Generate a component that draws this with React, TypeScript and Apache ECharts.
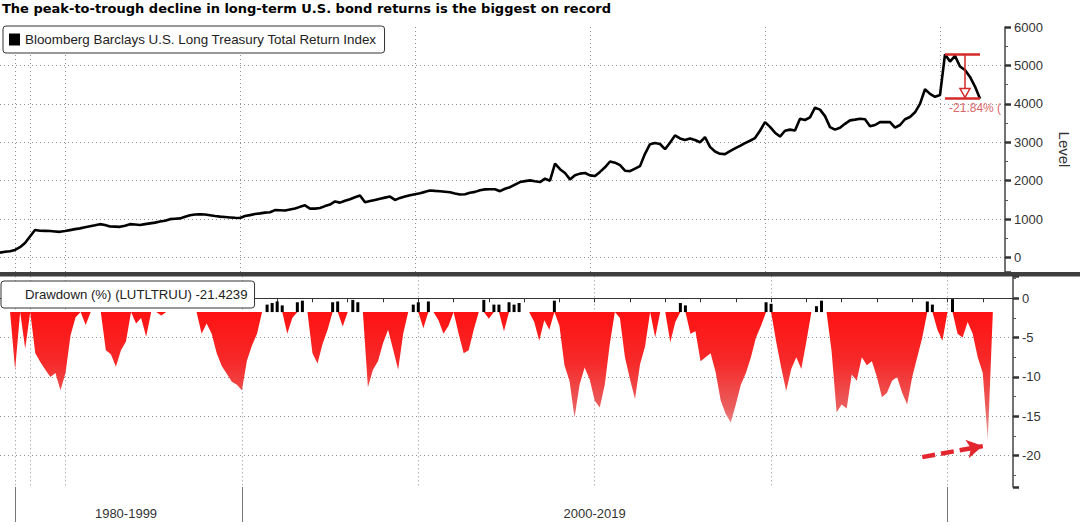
import React, { useEffect, useRef } from 'react';
import * as echarts from 'echarts';

const TITLE = 'The peak-to-trough decline in long-term U.S. bond returns is the biggest on record';
const LEVEL_NAME = 'Bloomberg Barclays U.S. Long Treasury Total Return Index';
const DD_NAME = 'Drawdown (%) (LUTLTRUU) -21.4239';
const DD_UP_NAME = 'Drawdown near high';
const LEVEL_AXIS_NAME = 'Level';
const PERIOD_LABELS = ['1980-1999', '2000-2019'];
const ANNOT_LABEL = '-21.84% (';

// Sample dates (decimal years). Bloomberg plots by observation, so the early
// (sparser) history is compressed: 1.5-year steps before 1995, 1/7-year after.
const EARLY_YEARS = [1975.5, 1977, 1978.5, 1980, 1981.5, 1983, 1984.5, 1986, 1987.5, 1989, 1990.5, 1992, 1993.5];
const LATE_START = 1995;
const LATE_STEPS_PER_YEAR = 7;
const LATE_COUNT = 189;
const EARLY_TICK_YEARS = [1977, 1980, 1984.5];
const EARLY_GRID_YEARS = [1980, 1984.5];
const ERA_YEARS = [1980, 2000, 2020];

const LEVEL = [
  130, 150, 165, 200, 270, 380, 550, 720, 700, 695,
  690, 680, 670, 690, 715, 740, 760, 790, 815, 840,
  870, 850, 810, 805, 800, 830, 870, 860, 850, 870,
  890, 910, 940, 960, 1000, 1010, 1020, 1060, 1100, 1120,
  1125, 1120, 1100, 1080, 1065, 1055, 1045, 1035, 1030, 1080,
  1105, 1135, 1150, 1170, 1180, 1235, 1230, 1225, 1250, 1275,
  1320, 1360, 1275, 1275, 1290, 1340, 1380, 1460, 1430, 1480,
  1520, 1570, 1614, 1439, 1470, 1500, 1530, 1560, 1588, 1500,
  1553, 1590, 1623, 1650, 1675, 1710, 1746, 1735, 1728, 1715,
  1702, 1670, 1640, 1650, 1685, 1710, 1750, 1775, 1778, 1780,
  1728, 1790, 1833, 1900, 1965, 1990, 2009, 1985, 1965, 2053,
  2000, 2447, 2300, 2200, 2035, 2140, 2185, 2200, 2140, 2123,
  2230, 2350, 2500, 2470, 2404, 2260, 2250, 2316, 2380, 2700,
  2950, 2980, 2956, 2820, 2990, 3180, 3100, 3061, 3100, 3060,
  3000, 3132, 2880, 2760, 2700, 2693, 2770, 2840, 2905, 2980,
  3040, 3110, 3300, 3526, 3400, 3250, 3149, 3300, 3330, 3307,
  3614, 3580, 3650, 3900, 3850, 3680, 3395, 3330, 3377, 3480,
  3570, 3590, 3614, 3600, 3420, 3450, 3526, 3530, 3526, 3380,
  3450, 3600, 3658, 3780, 4000, 4380, 4260, 4184, 4230, 5290,
  5100, 5250, 4974, 4880, 4700, 4450, 4134, null, null, null,
  null, null,
];

// Drawdown (%) as drawn on the axis; null = nothing drawn at that sample
const DRAWDOWN = [
  null, null, null, -9.1, null, -6.4, null, -7.0, -8.1, -9.1,
  -10.0, -9.5, -11.7, -9.5, -4.7, -2.4, null, -3.4, null, null,
  null, -6.6, -7.1, -8.7, -6.6, -5.5, null, -3.2, -2.5, -4.9,
  null, null, -2.2, null, null, null, null, null, null, null,
  -4.5, -3.2, -4.5, -7.0, -8.6, -9.6, -10.6, -11.0, -11.7, -7.9,
  -6.0, -4.5, null, -0.8, -0.6, -0.4, -0.9, -4.5, -2.5, -0.5,
  -0.3, null, -7.0, -8.3, -5.8, -4.0, -0.5, -0.4, -3.6, null,
  -0.2, -0.5, null, -11.3, -9.1, -8.0, -5.7, -4.0, -6.5, -9.1,
  -4.5, null, -0.8, -0.5, -3.8, -0.4, null, -2.8, -4.5, -3.5,
  null, -4.5, -7.0, -6.6, -4.0, null, -0.2, -2.6, -0.8, -0.8,
  -4.2, -0.5, -0.8, -0.6, null, null, -3.0, -5.4, -2.8, -4.0,
  -0.3, -3.5, -8.5, -10.5, -15.2, -11.0, -8.8, -10.3, -13.0, -13.9,
  -11.0, -5.8, null, -2.5, -7.5, -10.3, -12.8, -8.4, -6.1, null,
  -5.0, null, null, -5.6, -3.0, -0.6, -0.9, -4.5, -4.2, -8.0,
  -7.5, -7.0, -9.4, -13.0, -14.7, -15.8, -13.5, -11.0, -9.5, -7.5,
  -5.0, -3.5, -0.5, -0.7, -5.5, -8.8, -11.8, -9.0, -7.5, -9.0,
  -5.5, null, -1.0, -0.3, null, -6.7, -14.5, -13.5, -14.0, -9.7,
  -10.5, -7.5, -8.5, -8.0, -10.0, -12.6, -12.0, -10.5, -10.0, -12.0,
  -13.5, -10.0, -7.5, -5.0, -0.4, -0.8, -4.0, -5.4, null, -0.1,
  -4.5, -5.0, -3.0, -4.5, -7.5, -9.5, -18.1, null, null, null,
  null, null,
];

const DD_BASE = -1.75; // Bloomberg's fill baseline in the lower panel

// Hand-drawn arrow in the lower panel (date, drawdown value)
const ARROW_FROM: [string, number] = ['2019-04', -20.2];
const ARROW_TO: [string, number] = ['2021-01', -18.8];

const X_YEARS: number[] = [
  ...EARLY_YEARS,
  ...Array.from({ length: LATE_COUNT }, (_, k) => LATE_START + k / LATE_STEPS_PER_YEAR),
];
const fmt = (y: number) => {
  const yr = Math.floor(y + 1e-9);
  const m = Math.floor((y - yr) * 12 + 1e-6) + 1;
  return `${yr}-${String(m).padStart(2, '0')}`;
};
const CATS = X_YEARS.map(fmt);
const idxOfYear = (y: number) => {
  let best = 0;
  X_YEARS.forEach((v, i) => { if (Math.abs(v - y) < Math.abs(X_YEARS[best] - y)) best = i; });
  return best;
};
const isInt = (y: number) => Math.abs(y - Math.round(y)) < 1e-9;
const TICK_SET = new Set<number>();
const GRID_SET = new Set<number>();
X_YEARS.forEach((y, i) => {
  if ((y >= LATE_START && isInt(y)) || EARLY_TICK_YEARS.includes(y)) TICK_SET.add(i);
  if ((y >= LATE_START && isInt(y) && Math.round(y) % 5 === 0) || EARLY_GRID_YEARS.includes(y)) GRID_SET.add(i);
});
const ERA_IDX = ERA_YEARS.map(idxOfYear);
const ERA_SET = new Set(ERA_IDX);
const LABEL_IDX = [Math.floor((ERA_IDX[0] + ERA_IDX[1]) / 2), Math.floor((ERA_IDX[1] + ERA_IDX[2]) / 2)];

let PEAK_IDX = 0;
LEVEL.forEach((v, i) => { if (v != null && v > (LEVEL[PEAK_IDX] as number)) PEAK_IDX = i; });
let END_IDX = 0;
LEVEL.forEach((v, i) => { if (v != null) END_IDX = i; });
const PEAK = LEVEL[PEAK_IDX] as number;
const TROUGH = LEVEL[END_IDX] as number;
const ARROW_IDX = Math.round((PEAK_IDX + END_IDX) / 2);

const DD_RED = DRAWDOWN.map((v) => (v != null && v < DD_BASE ? v : DD_BASE));
const isSpike = (v: number | null) => v != null && v > DD_BASE;
const DD_SPIKE_BASE = DRAWDOWN.map((v) => (isSpike(v) ? DD_BASE : '-'));
const DD_SPIKE = DRAWDOWN.map((v) => (isSpike(v) ? (v as number) - DD_BASE : '-'));

const FONT = 'Liberation Sans';
const GRID_LINE = { color: '#8f8f8f', width: 1, type: [1, 3] as number[] };
const RED = '#d42a2a';

export default function App() {
  const ref = useRef<HTMLDivElement>(null);
  useEffect(() => {
    const chart = echarts.init(ref.current!, null, { renderer: 'svg' });
    const catX = (common: any) => ({
      type: 'category',
      data: CATS,
      boundaryGap: false,
      ...common,
    });
    const legendBox = {
      icon: 'rect',
      itemWidth: 11,
      itemHeight: 12,
      selectedMode: false,
      backgroundColor: '#fff',
      borderColor: '#333',
      borderWidth: 1,
      borderRadius: 3,
    };
    const option: any = {
      animation: false,
      backgroundColor: '#fff',
      textStyle: { fontFamily: FONT },
      title: {
        text: TITLE,
        left: 2,
        top: 2,
        padding: 0,
        textStyle: { fontFamily: 'DejaVu Sans', fontWeight: 'bold', fontSize: 13, color: '#000' },
      },
      legend: [
        {
          ...legendBox,
          data: [LEVEL_NAME],
          left: 3,
          top: 26,
          padding: [7, 8, 7, 6],
          textStyle: { fontSize: 13.4, color: '#222', fontFamily: FONT },
        },
        {
          ...legendBox,
          data: [{ name: DD_NAME, itemStyle: { opacity: 0 } }],
          left: 1,
          top: 281,
          padding: [7, 7, 7, 8],
          textStyle: { fontSize: 13.2, color: '#222', fontFamily: FONT },
        },
      ],
      grid: [
        { left: 0, right: 67, top: 27, height: 245 },
        { left: 0, right: 67, top: 276.3, height: 210.7 },
      ],
      xAxis: [
        catX({
          gridIndex: 0,
          axisLine: { show: false },
          axisTick: { show: false },
          axisLabel: { show: false },
          splitLine: { show: true, interval: (i: number) => GRID_SET.has(i), lineStyle: GRID_LINE },
        }),
        catX({
          gridIndex: 1,
          position: 'bottom',
          axisLine: { show: true, lineStyle: { color: '#333', width: 1 } },
          axisTick: { show: true, interval: (i: number) => TICK_SET.has(i), length: 4, lineStyle: { color: '#333' } },
          axisLabel: {
            show: true,
            interval: (i: number) => LABEL_IDX.includes(i),
            formatter: (_v: string, i: number) => PERIOD_LABELS[LABEL_IDX.indexOf(i)] ?? '',
            margin: 20,
            fontSize: 13,
            color: '#333',
            fontFamily: FONT,
          },
          splitLine: { show: true, interval: (i: number) => GRID_SET.has(i), lineStyle: GRID_LINE },
        }),
        catX({
          gridIndex: 1,
          position: 'bottom',
          axisLine: { show: false },
          axisTick: { show: true, interval: (i: number) => ERA_SET.has(i), length: 35, lineStyle: { color: '#777', width: 1 } },
          axisLabel: { show: false },
          splitLine: { show: false },
        }),
      ],
      yAxis: [
        {
          gridIndex: 0,
          type: 'value',
          position: 'right',
          min: -375,
          max: 6000,
          splitNumber: 6,
          minInterval: 1000,
          maxInterval: 1000,
          axisLine: { show: true, lineStyle: { color: '#444', width: 1.5 } },
          axisTick: { show: true, length: 6, lineStyle: { color: '#333', width: 2.5 } },
          minorTick: { show: true, splitNumber: 2, length: 3, lineStyle: { color: '#555' } },
          axisLabel: {
            formatter: (v: number) => (v >= 0 && v % 1000 === 0 ? String(v) : ''),
            margin: 9,
            fontSize: 13,
            color: '#333',
            fontFamily: FONT,
          },
          splitLine: { show: true, showMinLine: false, showMaxLine: false, lineStyle: GRID_LINE },
          name: LEVEL_AXIS_NAME,
          nameLocation: 'middle',
          nameRotate: -90,
          nameGap: 52,
          nameTextStyle: { fontSize: 15, color: '#333', fontFamily: FONT },
        },
        {
          gridIndex: 1,
          type: 'value',
          position: 'right',
          min: -24,
          max: 2.8,
          splitNumber: 5,
          minInterval: 5,
          maxInterval: 5,
          axisLine: { show: true, lineStyle: { color: '#444', width: 1.5 } },
          axisTick: { show: true, length: 6, lineStyle: { color: '#333', width: 2.5 } },
          minorTick: { show: true, splitNumber: 2, length: 3, lineStyle: { color: '#555' } },
          axisLabel: {
            formatter: (v: number) => (v <= 0 && v % 5 === 0 ? String(v) : ''),
            margin: 9,
            fontSize: 13,
            color: '#333',
            fontFamily: FONT,
          },
          splitLine: { show: true, showMinLine: false, showMaxLine: false, lineStyle: GRID_LINE },
        },
      ],
      series: [
        {
          name: LEVEL_NAME,
          type: 'line',
          xAxisIndex: 0,
          yAxisIndex: 0,
          data: LEVEL,
          symbol: 'none',
          color: '#000',
          lineStyle: { color: '#000', width: 2.6 },
          z: 3,
          markLine: {
            silent: true,
            symbol: ['none', 'none'],
            label: { show: false },
            lineStyle: { color: RED, width: 2.5, type: 'solid' },
            data: [
              [{ coord: [CATS[PEAK_IDX], PEAK] }, { coord: [CATS[END_IDX], PEAK] }],
              [{ coord: [CATS[PEAK_IDX], TROUGH] }, { coord: [CATS[END_IDX], TROUGH] }],
              [
                { coord: [CATS[ARROW_IDX], PEAK], lineStyle: { color: RED, width: 1.5, type: 'solid' } },
                { coord: [CATS[ARROW_IDX], TROUGH + 265] },
              ],
            ],
          },
          markPoint: {
            silent: true,
            data: [
              {
                coord: [CATS[ARROW_IDX], TROUGH + 150],
                symbol: 'triangle',
                symbolRotate: 180,
                symbolSize: [10, 9],
                itemStyle: { color: '#fff', borderColor: RED, borderWidth: 1.5 },
                label: { show: false },
              },
              {
                coord: [CATS[PEAK_IDX], TROUGH - 245],
                symbol: 'circle',
                symbolSize: 0.1,
                itemStyle: { color: 'transparent' },
                label: {
                  show: true,
                  position: 'right',
                  distance: 4,
                  formatter: ANNOT_LABEL,
                  color: '#d9656a',
                  fontSize: 12,
                  fontFamily: FONT,
                },
              },
            ],
          },
        },
        {
          name: DD_NAME,
          type: 'line',
          xAxisIndex: 1,
          yAxisIndex: 1,
          data: DD_RED,
          symbol: 'none',
          color: '#ff1a1a',
          lineStyle: { width: 0 },
          areaStyle: {
            origin: DD_BASE,
            opacity: 1,
            color: new echarts.graphic.LinearGradient(0, 0, 0, 1, [
              { offset: 0, color: '#ff1212' },
              { offset: 0.4, color: '#f62a2a' },
              { offset: 0.75, color: '#ea5f5f' },
              { offset: 1, color: '#eab0b0' },
            ]),
          },
          markLine: {
            silent: true,
            symbol: ['none', 'arrow'],
            symbolSize: [14, 16],
            label: { show: false },
            lineStyle: { color: '#e3262e', width: 4.5, type: [13, 6] },
            data: [[{ coord: ARROW_FROM }, { coord: ARROW_TO }]],
          },
        },
        {
          name: 'spike-base',
          type: 'bar',
          xAxisIndex: 1,
          yAxisIndex: 1,
          stack: 'spikes',
          stackStrategy: 'all',
          data: DD_SPIKE_BASE,
          barWidth: 3,
          itemStyle: { color: 'rgba(0,0,0,0)' },
          silent: true,
        },
        {
          name: DD_UP_NAME,
          type: 'bar',
          xAxisIndex: 1,
          yAxisIndex: 1,
          stack: 'spikes',
          stackStrategy: 'all',
          data: DD_SPIKE,
          barWidth: 3,
          itemStyle: { color: '#000' },
          silent: true,
        },
      ],
      graphic: [
        {
          type: 'rect',
          left: 0,
          top: 272,
          z: 100,
          shape: { width: 1080, height: 4.5 },
          style: { fill: '#3e3e3e' },
        },
      ],
    };
    chart.setOption(option);
    return () => chart.dispose();
  }, []);
  return (
    <div
      ref={ref}
      style={{ position: 'fixed', left: 0, top: 0, width: 1080, height: 526, background: '#fff' }}
    />
  );
}
